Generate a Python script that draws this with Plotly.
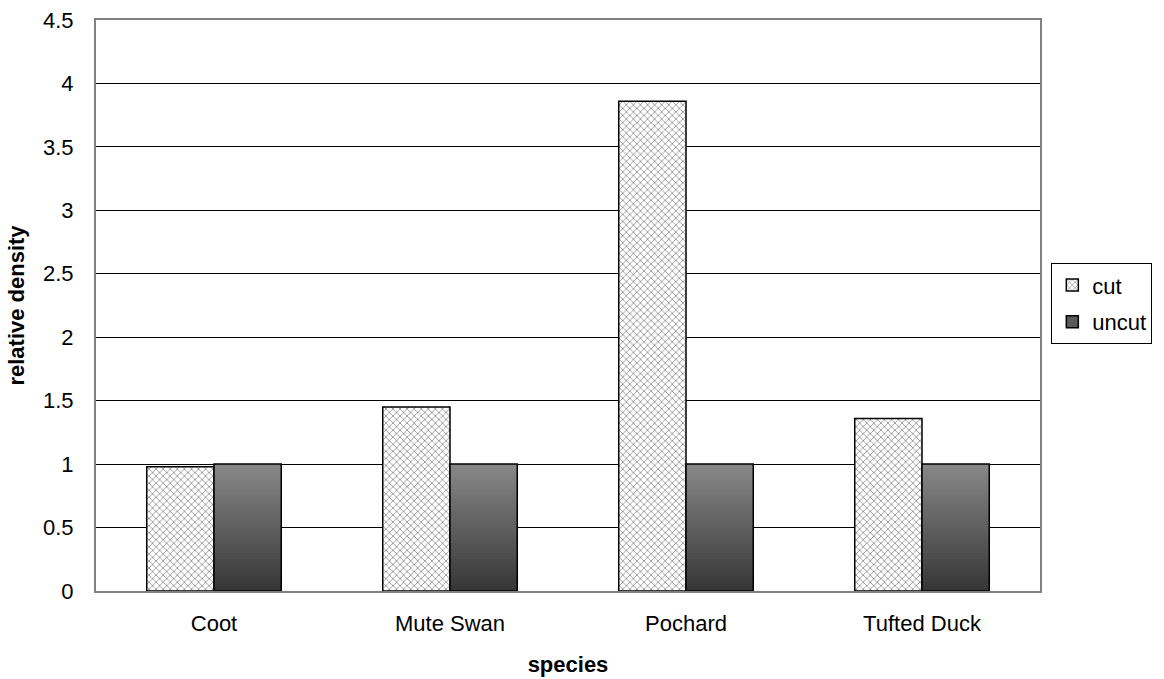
import plotly.graph_objects as go

species = ["Coot", "Mute Swan", "Pochard", "Tufted Duck"]
cut = [0.98, 1.45, 3.86, 1.36]
uncut = [1.0, 1.0, 1.0, 1.0]
y_ticks = [0, 0.5, 1, 1.5, 2, 2.5, 3, 3.5, 4, 4.5]

FONT = "Liberation Sans, Arial, sans-serif"
FS = 22
N_SEG = 40
TOP_RGB = (135, 135, 135)
BOT_RGB = (55, 55, 55)

fig = go.Figure()

# cut bars with crosshatch pattern
fig.add_trace(go.Bar(
    x=species, y=cut, name="cut", offsetgroup="cut", legendgroup="a",
    marker=dict(color="white",
                line=dict(color="black", width=1.5),
                pattern=dict(shape="x", size=5, solidity=0.25,
                             fgcolor="#7a7a7a", bgcolor="white", fillmode="replace")),
))

# uncut bars: gradient built from stacked slices of each value
for i in range(N_SEG):
    t = i / (N_SEG - 1)
    rgb = tuple(int(round(b + (tp - b) * t)) for b, tp in zip(BOT_RGB, TOP_RGB))
    base = [v * i / N_SEG for v in uncut]
    h = [min(v * 2 / N_SEG, v - v * i / N_SEG) for v in uncut]
    fig.add_trace(go.Bar(
        x=species, y=h, base=base, offsetgroup="uncut", showlegend=False,
        hoverinfo="skip",
        marker=dict(color="rgb(%d,%d,%d)" % rgb, line=dict(width=0)),
    ))

# outline for uncut bars
fig.add_trace(go.Bar(
    x=species, y=uncut, offsetgroup="uncut", showlegend=False, name="uncut",
    marker=dict(color="rgba(0,0,0,0)", line=dict(color="black", width=1.5)),
))
# legend entry for uncut
fig.add_trace(go.Bar(
    x=species, y=[None] * len(species), offsetgroup="uncut", name="uncut",
    legendgroup="b",
    marker=dict(color="#5a5a5a", line=dict(color="black", width=1.5)),
))

fig.update_layout(
    width=1164, height=679,
    margin=dict(l=96, r=112, t=20, b=88),
    paper_bgcolor="white", plot_bgcolor="white",
    barmode="group", bargap=0.43, bargroupgap=0,
    font=dict(family=FONT, size=FS, color="black"),
    legend=dict(x=1.012, y=0.503, xanchor="left", yanchor="middle",
                bordercolor="black", borderwidth=1, bgcolor="white",
                font=dict(size=FS), tracegroupgap=5, itemwidth=30),
    showlegend=True,
)
fig.update_xaxes(
    title=dict(text="<b>species</b>", font=dict(size=FS), standoff=21),
    showline=True, linecolor="#808080", linewidth=2, mirror=True,
    ticks="", showgrid=False, ticklabelstandoff=12, automargin=False,
)
fig.update_yaxes(
    title=dict(text="<b>relative density</b>", font=dict(size=FS), standoff=12),
    range=[0, 4.5], tickvals=y_ticks, ticktext=[f"{v:g}" for v in y_ticks],
    showgrid=True, gridcolor="black", gridwidth=1,
    showline=True, linecolor="#808080", linewidth=2, mirror=True,
    ticks="", ticklabelstandoff=16, zeroline=False, automargin=False,
)

fig.write_html("out.html")
